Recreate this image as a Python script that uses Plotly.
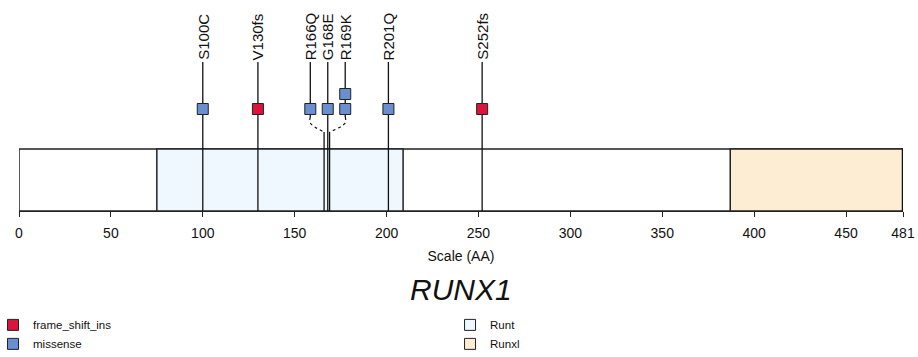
import plotly.graph_objects as go

# ---- data ----
protein_length = 481
gene_name = "RUNX1"
domain_names = ["Runt", "Runxl"]
domain_starts = [75, 387]
domain_ends = [209, 481]
domain_colors = ["#F0F8FF", "#FDEDD2"]

mut_labels = ["S100C", "V130fs", "R166Q", "G168E", "R169K", "R201Q", "S252fs"]
mut_positions = [100, 130, 166, 168, 169, 201, 252]
mut_counts = [1, 1, 1, 1, 2, 1, 1]
mut_types = ["missense", "frame_shift_ins", "missense", "missense", "missense", "missense", "frame_shift_ins"]
type_names = ["frame_shift_ins", "missense"]
type_colors = {"frame_shift_ins": "#DC143C", "missense": "#6A8FD0"}

tick_vals = [0, 50, 100, 150, 200, 250, 300, 350, 400, 450, 481]

# ---- layout constants (y units = pixels above axis) ----
BOX_TOP = 62
MARKER_Y = 102
STACK_STEP = 15
LABEL_Y = 149
BEND_TOP = 94
BEND_BOT = 79
MIN_SEP = 9.5

# spread overlapping lollipops for display
disp = list(map(float, mut_positions))
i = 0
n = len(disp)
while i < n:
    j = i
    while j + 1 < n and mut_positions[j + 1] - mut_positions[j] < MIN_SEP:
        j += 1
    if j > i:
        center = (mut_positions[i] + mut_positions[j]) / 2
        for k in range(i, j + 1):
            disp[k] = center + (k - i - (j - i) / 2) * MIN_SEP + 0.5
    i = j + 1

fig = go.Figure()

def rect(x0, x1, y0, y1, fill, w=1.5):
    fig.add_trace(go.Scatter(x=[x0, x1, x1, x0, x0], y=[y0, y0, y1, y1, y0],
                             mode="lines", fill="toself", fillcolor=fill,
                             line=dict(color="#222222", width=w),
                             showlegend=False, hoverinfo="skip"))

rect(0, protein_length, 0, BOX_TOP, "white")
for s, e, c in zip(domain_starts, domain_ends, domain_colors):
    rect(s, e, 0, BOX_TOP, c)

# heavier end cap at the C-terminus
fig.add_trace(go.Scatter(x=[protein_length, protein_length], y=[0, BOX_TOP], mode="lines",
                         line=dict(color="#111111", width=2.5), showlegend=False, hoverinfo="skip"))

line_style = dict(color="#111111", width=1.3)
for p, d in zip(mut_positions, disp):
    if abs(p - d) < 1e-6:
        fig.add_trace(go.Scatter(x=[p, p], y=[0, LABEL_Y], mode="lines", line=line_style,
                                 showlegend=False, hoverinfo="skip"))
    else:
        fig.add_trace(go.Scatter(x=[d, d], y=[BEND_TOP, LABEL_Y], mode="lines", line=line_style,
                                 showlegend=False, hoverinfo="skip"))
        fig.add_trace(go.Scatter(x=[d, d, p], y=[BEND_TOP, BEND_TOP - 6, BEND_BOT], mode="lines",
                                 line=dict(color="#111111", width=1.2, dash="dot", shape="spline"),
                                 showlegend=False, hoverinfo="skip"))
        fig.add_trace(go.Scatter(x=[p, p], y=[0, BEND_BOT], mode="lines", line=line_style,
                                 showlegend=False, hoverinfo="skip"))

for t in type_names:
    xs, ys = [], []
    for d, c, mt in zip(disp, mut_counts, mut_types):
        if mt == t:
            for k in range(c):
                xs.append(d)
                ys.append(MARKER_Y + k * STACK_STEP)
    fig.add_trace(go.Scatter(x=xs, y=ys, mode="markers", name=t,
                             marker=dict(symbol="square", size=11, color=type_colors[t],
                                         line=dict(color="#222222", width=1)),
                             legend="legend"))

for nm, c in zip(domain_names, domain_colors):
    fig.add_trace(go.Scatter(x=[None], y=[None], mode="markers", name=nm,
                             marker=dict(symbol="square", size=11, color=c,
                                         line=dict(color="#222222", width=1)),
                             legend="legend2"))

for lab, d in zip(mut_labels, disp):
    fig.add_annotation(x=d, y=LABEL_Y, text=lab, textangle=-90, showarrow=False,
                       xanchor="center", yanchor="bottom", font=dict(size=15, color="#111111"))

fig.add_annotation(x=0.5, y=-0.372, xref="paper", yref="paper", text="<i>" + gene_name + "</i>",
                   showarrow=False, yanchor="middle", font=dict(size=30, color="#111111"))

fig.update_layout(
    width=918, height=357,
    margin=dict(l=19, r=15, t=0, b=146, autoexpand=False),
    plot_bgcolor="white", paper_bgcolor="white",
    font=dict(family="Liberation Sans, Arial, sans-serif", size=11, color="#111111"),
    xaxis=dict(range=[0, protein_length], tickvals=tick_vals, ticktext=[str(v) for v in tick_vals],
               showline=True, linecolor="#222222", linewidth=1.3, ticks="outside", ticklen=5,
               tickcolor="#222222", showgrid=False, zeroline=False, ticklabelstandoff=4,
               title=dict(text="Scale (AA)", font=dict(size=14), standoff=11),
               tickfont=dict(size=14), fixedrange=True),
    yaxis=dict(range=[0, 211], visible=False, fixedrange=True),
    legend=dict(x=-0.0294, y=-0.471, xanchor="left", yanchor="top", bgcolor="rgba(0,0,0,0)",
                font=dict(size=11.5), tracegroupgap=0),
    legend2=dict(x=0.4876, y=-0.471, xanchor="left", yanchor="top", bgcolor="rgba(0,0,0,0)",
                 font=dict(size=11.5), tracegroupgap=0),
    showlegend=True,
    hovermode=False,
)

fig.write_html("out.html", config={"displayModeBar": False},
               post_script="document.body.style.margin='0';document.body.style.padding='0';")
